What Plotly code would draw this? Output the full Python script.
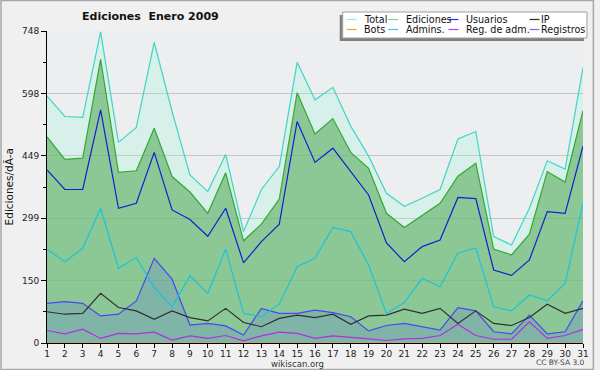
import plotly.graph_objects as go

days = list(range(1, 32))
total = [592,543,541,746,481,517,721,555,403,363,452,267,368,423,673,583,613,520,448,359,328,347,368,489,507,255,235,323,437,417,660]
ediciones = [494,440,443,680,409,413,515,399,362,311,408,245,285,345,600,501,538,457,419,311,277,307,335,400,431,225,211,261,411,386,557]
usuarios = [415,368,368,559,323,335,457,319,296,256,323,192,243,285,531,433,467,411,355,240,195,231,247,349,346,175,162,199,315,311,472]
ip = [75,69,71,119,85,77,57,77,61,53,83,49,39,59,67,61,69,45,65,67,81,71,83,47,77,47,42,61,93,71,83]
bots = [0,0,0,0,0,0,0,0,0,0,0,0,0,0,0,0,0,0,0,0,0,0,0,0,0,0,0,0,0,0,0]
admins = [225,195,227,323,179,205,133,87,161,119,225,71,63,93,183,203,277,267,187,71,97,155,135,216,228,87,77,115,101,143,335]
regadm = [30,22,33,11,23,22,26,7,17,11,18,5,17,26,23,11,17,14,10,6,10,11,18,45,18,9,9,51,11,18,33]
registros = [95,99,95,65,69,101,203,153,43,47,41,19,83,71,71,79,73,63,29,42,47,39,31,85,77,27,22,67,22,27,101]

ymax = 748
ytickvals = [0, 149.6, 299.2, 448.8, 598.4, 748]
yticktext = ["0", "150", "299", "449", "598", "748"]

legend_rows = [["Total", "Ediciones", "Usuarios", "IP"],
               ["Bots", "Admins.", "Reg. de adm.", "Registros"]]
colors = {
    "Total": "#3FD6C6", "Ediciones": "#33A833", "Usuarios": "#1020D0", "IP": "#303030",
    "Bots": "#FF9933", "Admins.": "#18C4DC", "Reg. de adm.": "#B030E0", "Registros": "#4848F0",
}
legend_colors = {
    "Total": "#A8E4DE", "Ediciones": "#8CD08C", "Usuarios": "#3030D8", "IP": "#303030",
    "Bots": "#FF9933", "Admins.": "#40CCE0", "Reg. de adm.": "#C040E0", "Registros": "#7070F0",
}

W, H = 600, 370
L, R, T, B = 47, 11, 31, 27
PW, PH = W - L - R, H - T - B


def px(x):
    return (x - L) / PW


def py(y):
    return (H - B - y) / PH


FONT = "DejaVu Sans, sans-serif"

fig = go.Figure()
fig.add_trace(go.Scatter(x=days, y=total, mode="lines", fill="tozeroy",
                         fillcolor="rgba(137,250,215,0.22)",
                         line=dict(color=colors["Total"], width=1.2)))
fig.add_trace(go.Scatter(x=days, y=ediciones, mode="lines", fill="tozeroy",
                         fillcolor="rgba(94,176,97,0.62)",
                         line=dict(color=colors["Ediciones"], width=1.2)))
fig.add_trace(go.Scatter(x=days, y=registros, mode="lines", fill="tozeroy",
                         fillcolor="rgba(80,110,230,0.22)",
                         line=dict(color=colors["Registros"], width=1.2)))
for name, vals in [("Admins.", admins), ("IP", ip), ("Usuarios", usuarios),
                   ("Reg. de adm.", regadm), ("Bots", bots)]:
    fig.add_trace(go.Scatter(x=days, y=vals, mode="lines",
                             line=dict(color=colors[name], width=1.2)))

shapes = []
annotations = []
# outer border
shapes.append(dict(type="rect", xref="paper", yref="paper",
                   x0=px(0.5), x1=px(599.5), y0=py(369.5), y1=py(0.5),
                   line=dict(color="#A8A8A8", width=1.5), layer="above"))
# legend shadow + box
shapes.append(dict(type="rect", xref="paper", yref="paper",
                   x0=px(343), x1=px(590), y0=py(41), y1=py(15),
                   fillcolor="#808080", line=dict(width=0), layer="above"))
shapes.append(dict(type="rect", xref="paper", yref="paper",
                   x0=px(346), x1=px(593), y0=py(38), y1=py(12),
                   fillcolor="#FFFFFF", line=dict(color="#A0A0A0", width=1), layer="above"))
col_line = [350, 392, 453, 535]
col_text = [366, 408, 469, 545]
row_y = [19.5, 29.5]
for r, row in enumerate(legend_rows):
    for c, name in enumerate(row):
        shapes.append(dict(type="line", xref="paper", yref="paper",
                           x0=px(col_line[c]), x1=px(col_line[c] + 10),
                           y0=py(row_y[r]), y1=py(row_y[r]),
                           line=dict(color=legend_colors[name], width=1.2), layer="above"))
        annotations.append(dict(text=name, xref="paper", yref="paper",
                                x=px(col_text[c]), y=py(row_y[r]), xanchor="left", yanchor="middle",
                                showarrow=False, font=dict(family=FONT, size=9.6, color="#111")))

annotations.append(dict(text="<b>Ediciones\u00a0 Enero\u00a02009</b>", xref="paper", yref="paper",
                        x=px(152), y=py(17), xanchor="center", yanchor="middle", showarrow=False,
                        font=dict(family=FONT, size=11, color="#111")))
annotations.append(dict(text="Ediciones/dÃ-a", xref="paper", yref="paper",
                        x=px(9), y=py(187), xanchor="center", yanchor="middle", showarrow=False,
                        textangle=-90, font=dict(family=FONT, size=10.5, color="#111")))
annotations.append(dict(text="wikiscan.org", xref="paper", yref="paper",
                        x=px(300), y=py(363.5), xanchor="center", yanchor="middle", showarrow=False,
                        font=dict(family=FONT, size=8.5, color="#333")))
annotations.append(dict(text="CC BY-SA 3.0", xref="paper", yref="paper",
                        x=px(593), y=py(362.5), xanchor="right", yanchor="middle", showarrow=False,
                        font=dict(family=FONT, size=7.5, color="#444")))

fig.update_layout(
    width=W, height=H, margin=dict(l=L, r=R, t=T, b=B),
    paper_bgcolor="#F0F0F0", plot_bgcolor="#EDEEF0",
    showlegend=False, shapes=shapes, annotations=annotations,
    font=dict(family=FONT, size=9.5, color="#222"),
    xaxis=dict(range=[1, 31], tickmode="array", tickvals=days, ticktext=[str(d) for d in days],
               showgrid=False, zeroline=False, showline=True, linecolor="#000", linewidth=1,
               ticks="outside", ticklen=4, tickcolor="#000", tickfont=dict(size=9),
               ticklabelstandoff=-2),
    yaxis=dict(range=[0, ymax], tickmode="array", tickvals=ytickvals, ticktext=yticktext,
               showgrid=True, gridcolor="#C6C6C6", gridwidth=1, zeroline=False,
               showline=True, linecolor="#000", linewidth=1,
               ticks="outside", ticklen=5, tickcolor="#000", tickfont=dict(size=9),
               minor=dict(tickmode="array", tickvals=[74.8, 224.4, 374, 523.6, 673.2],
                          ticks="outside", ticklen=3, tickcolor="#000", showgrid=False)),
)

fig.write_html("out.html", post_script="document.body.style.margin='0';",
               config={"displayModeBar": False})
